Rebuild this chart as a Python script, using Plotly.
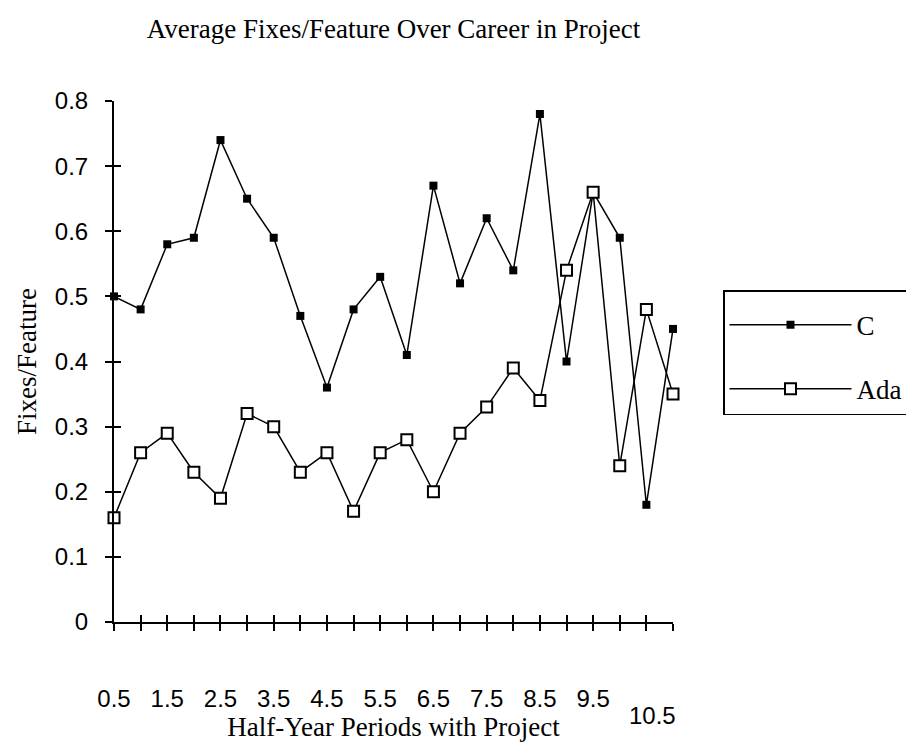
import plotly.graph_objects as go

# ---- data ----
periods = [0.5, 1.0, 1.5, 2.0, 2.5, 3.0, 3.5, 4.0, 4.5, 5.0, 5.5,
           6.0, 6.5, 7.0, 7.5, 8.0, 8.5, 9.0, 9.5, 10.0, 10.5, 11.0]
c_values = [0.50, 0.48, 0.58, 0.59, 0.74, 0.65, 0.59, 0.47, 0.36, 0.48, 0.53,
            0.41, 0.67, 0.52, 0.62, 0.54, 0.78, 0.40, 0.66, 0.59, 0.18, 0.45]
ada_values = [0.16, 0.26, 0.29, 0.23, 0.19, 0.32, 0.30, 0.23, 0.26, 0.17, 0.26,
              0.28, 0.20, 0.29, 0.33, 0.39, 0.34, 0.54, 0.66, 0.24, 0.48, 0.35]
x_tick_labels = ["0.5", "", "1.5", "", "2.5", "", "3.5", "", "4.5", "", "5.5",
                 "", "6.5", "", "7.5", "", "8.5", "", "9.5", "", "", ""]
last_label_value = 10.5
last_label_text = "10.5"
y_tick_values = [0, 0.1, 0.2, 0.3, 0.4, 0.5, 0.6, 0.7, 0.8]
y_tick_labels = ["0", "0.1", "0.2", "0.3", "0.4", "0.5", "0.6", "0.7", "0.8"]

SERIF = "Liberation Serif"
SANS = "Liberation Sans"

# the page body has an 8px margin, so the figure is drawn 8px in from the
# top-left corner of the 914x742 window
FIG_W, FIG_H = 906, 734
PLOT_L, PLOT_T, PLOT_W, PLOT_H = 106, 93, 559, 521

fig = go.Figure()
fig.add_trace(go.Scatter(
    x=periods, y=c_values, name="C", mode="lines+markers",
    line=dict(color="black", width=1.5),
    marker=dict(symbol="square", size=8, color="black"),
    cliponaxis=False, legendgroup="c",
))
fig.add_trace(go.Scatter(
    x=periods, y=ada_values, name="Ada", mode="lines+markers",
    line=dict(color="black", width=1.5),
    marker=dict(symbol="square", size=11, color="white",
                line=dict(color="black", width=2)),
    cliponaxis=False, legendgroup="ada",
))
# empty helper trace so the overlay axes (inner half of the crossing ticks) render
fig.add_trace(go.Scatter(x=[None], y=[None], xaxis="x2", yaxis="y2",
                         showlegend=False, hoverinfo="skip", mode="lines"))

axis_common = dict(showgrid=False, zeroline=False, showline=True,
                   linecolor="black", linewidth=2, tickcolor="black",
                   tickwidth=2, ticklen=7, automargin=False)

fig.update_layout(
    template="none",
    width=FIG_W, height=FIG_H,
    margin=dict(l=PLOT_L, r=FIG_W - PLOT_L - PLOT_W, t=PLOT_T,
                b=FIG_H - PLOT_T - PLOT_H, autoexpand=False),
    paper_bgcolor="white", plot_bgcolor="white",
    title=dict(text="Average Fixes/Feature Over Career in Project",
               font=dict(family=SERIF, size=27, color="black"),
               x=0.5, xref="paper", xanchor="center",
               y=1 - 21 / FIG_H, yref="container", yanchor="middle"),
    xaxis=dict(range=[0.5, 11.0], tickmode="array", tickvals=periods,
               ticktext=x_tick_labels, ticks="outside",
               tickfont=dict(family=SANS, size=24, color="black"),
               ticklabelstandoff=47,
               title=dict(text="Half-Year Periods with Project",
                          font=dict(family=SERIF, size=27, color="black"),
                          standoff=0),
               **axis_common),
    xaxis2=dict(range=[0.5, 11.0], tickmode="array", tickvals=periods,
                ticks="inside", showticklabels=False, overlaying="x",
                anchor="y", **axis_common),
    yaxis=dict(range=[0, 0.8], tickmode="array", tickvals=y_tick_values,
               ticktext=y_tick_labels, ticks="outside",
               tickfont=dict(family=SANS, size=24, color="black"),
               ticklabelstandoff=12,
               title=dict(text="Fixes/Feature",
                          font=dict(family=SERIF, size=27, color="black"),
                          standoff=10),
               **axis_common),
    yaxis2=dict(range=[0, 0.8], tickmode="array", tickvals=y_tick_values,
                ticks="inside", showticklabels=False, overlaying="y",
                anchor="x", **axis_common),
    legend=dict(x=(723 - 8 - PLOT_L) / PLOT_W, xanchor="left",
                y=(PLOT_T + PLOT_H - (290 - 8)) / PLOT_H, yanchor="top",
                bordercolor="black", borderwidth=1.5, bgcolor="white",
                font=dict(family=SERIF, size=27, color="black"),
                title=dict(text=" ", font=dict(family=SERIF, size=7)),
                itemwidth=122, tracegroupgap=26),
    showlegend=True,
)

fig.add_annotation(x=last_label_value, xref="x",
                   y=(PLOT_T + PLOT_H - (715 - 8)) / PLOT_H,
                   yref="paper", text=last_label_text, showarrow=False,
                   xanchor="center", yanchor="middle", xshift=6,
                   font=dict(family=SANS, size=24, color="black"))

fig.write_html("out.html")
